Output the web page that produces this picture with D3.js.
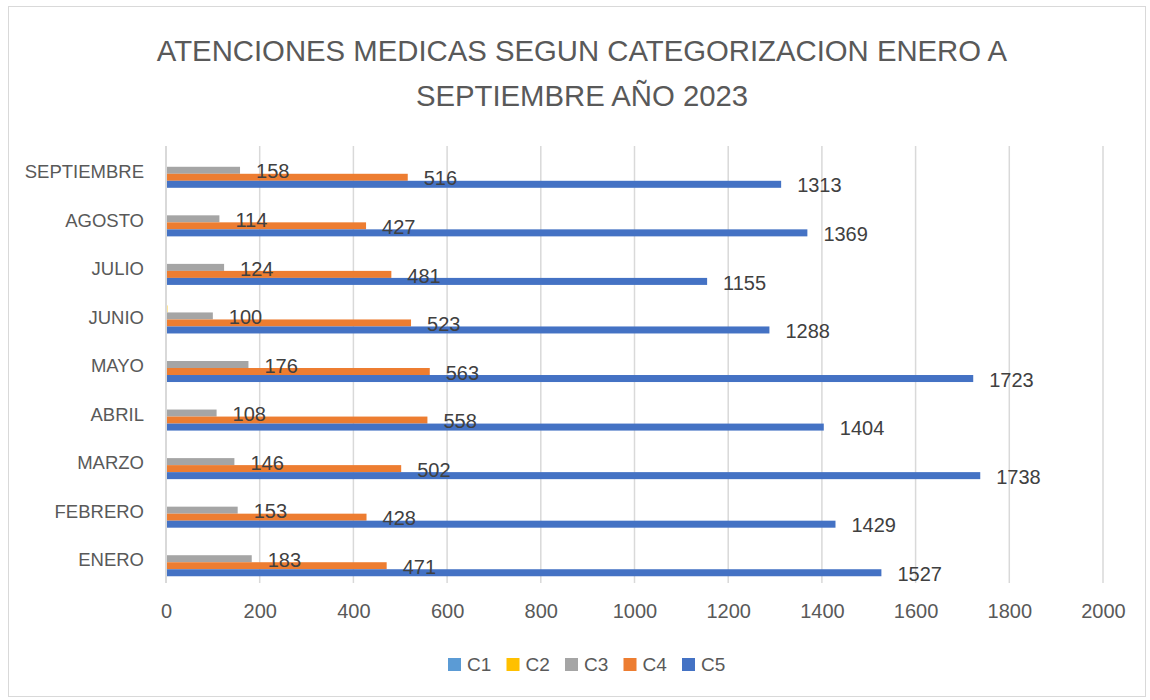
<!DOCTYPE html>
<html>
<head>
<meta charset="utf-8">
<script src="https://cdn.jsdelivr.net/npm/d3@7"></script>
<style>
  html, body { margin: 0; padding: 0; background: #ffffff; }
  svg { display: block; font-family: "Liberation Sans", Arial, sans-serif; }
</style>
</head>
<body>
<svg id="chart" width="1150" height="700"></svg>
<script>
// Months, top to bottom as displayed
const months = ["SEPTIEMBRE", "AGOSTO", "JULIO", "JUNIO", "MAYO", "ABRIL", "MARZO", "FEBRERO", "ENERO"];
const seriesNames = ["C1", "C2", "C3", "C4", "C5"];
const seriesColors = ["#5B9BD5", "#FFC000", "#A5A5A5", "#ED7D31", "#4472C4"];

// Attendances per category, same month order as above
const c1 = [0, 0, 0, 0, 1, 1, 1, 0, 0];
const c2 = [1, 0, 2, 3, 0, 0, 0, 0, 0];
const c3 = [158, 114, 124, 100, 176, 108, 146, 153, 183];
const c4 = [516, 427, 481, 523, 563, 558, 502, 428, 471];
const c5 = [1313, 1369, 1155, 1288, 1723, 1404, 1738, 1429, 1527];

const xTicks = [0, 200, 400, 600, 800, 1000, 1200, 1400, 1600, 1800, 2000];
const labelledSeries = ["C3", "C4", "C5"];

const titleLines = ["ATENCIONES MEDICAS SEGUN CATEGORIZACION ENERO A", "SEPTIEMBRE AÑO 2023"];

const seriesValues = [c1, c2, c3, c4, c5];
const rows = months.map((m, i) => ({
  month: m,
  values: seriesNames.map((s, k) => ({ series: s, value: seriesValues[k][i], color: seriesColors[k] }))
}));

const svg = d3.select("#chart");
const W = 1150, H = 700;
const plot = { left: 166, right: 1103, top: 146, bottom: 583 };

// Outer frame
svg.append("rect")
  .attr("x", 8.5).attr("y", 6.5)
  .attr("width", 1137).attr("height", 690)
  .attr("fill", "#ffffff")
  .attr("stroke", "#d9d9d9").attr("stroke-width", 1);

// Title
svg.append("g").selectAll("text")
  .data(titleLines)
  .join("text")
  .attr("x", 582)
  .attr("y", (d, i) => 60.5 + i * 45)
  .attr("text-anchor", "middle")
  .attr("fill", "#595959")
  .attr("font-size", 29.3)
  .text(d => d);

const x = d3.scaleLinear().domain([0, 2000]).range([plot.left, plot.right]);
const y = d3.scaleBand().domain(months).range([plot.top, plot.bottom])
  .paddingInner(0.278).paddingOuter(0.139);
const ys = d3.scaleBand().domain(seriesNames).range([0, y.bandwidth()]);

// Vertical gridlines
svg.append("g").selectAll("line")
  .data(xTicks)
  .join("line")
  .attr("x1", d => x(d)).attr("x2", d => x(d))
  .attr("y1", plot.top).attr("y2", plot.bottom)
  .attr("stroke", "#d9d9d9").attr("stroke-width", 1.5);

// X axis tick labels
const xAxis = d3.axisBottom(x).tickValues(xTicks).tickSize(0).tickPadding(0).tickFormat(d3.format("d"));
const gx = svg.append("g").attr("transform", `translate(0,${plot.bottom + 35})`).call(xAxis);
gx.select(".domain").remove();
gx.selectAll("text")
  .attr("dy", 0)
  .attr("fill", "#595959")
  .attr("font-size", 20)
  .attr("font-family", "Liberation Sans, Arial, sans-serif");

// Category axis labels
const yAxis = d3.axisLeft(y).tickSize(0).tickPadding(0);
const gy = svg.append("g").attr("transform", `translate(${plot.left - 22},0)`).call(yAxis);
gy.select(".domain").remove();
gy.selectAll("text")
  .attr("dy", "0.36em")
  .attr("fill", "#595959")
  .attr("font-size", 18.5)
  .attr("font-family", "Liberation Sans, Arial, sans-serif");
gy.selectAll(".tick").attr("transform", d => `translate(0,${y(d) + y.bandwidth() / 2 + 1})`);

// Bars
const groups = svg.append("g").selectAll("g")
  .data(rows)
  .join("g")
  .attr("transform", d => `translate(0,${y(d.month)})`);

groups.selectAll("rect")
  .data(d => d.values)
  .join("rect")
  .attr("x", x(0))
  .attr("y", d => ys(d.series))
  .attr("width", d => x(d.value) - x(0))
  .attr("height", ys.bandwidth())
  .attr("fill", d => d.color);

// Category axis line
svg.append("line")
  .attr("x1", plot.left).attr("x2", plot.left)
  .attr("y1", plot.top).attr("y2", plot.bottom)
  .attr("stroke", "#d9d9d9").attr("stroke-width", 2);

// Data labels
groups.selectAll("text")
  .data(d => d.values.filter(v => labelledSeries.includes(v.series)))
  .join("text")
  .attr("x", d => x(d.value) + 16)
  .attr("y", d => ys(d.series) + ys.bandwidth() / 2 + 1)
  .attr("dy", "0.36em")
  .attr("fill", "#404040")
  .attr("font-size", 20)
  .text(d => d.value);

// Legend
const legend = svg.append("g").selectAll("g")
  .data(seriesNames)
  .join("g")
  .attr("transform", (d, i) => `translate(${448 + i * 58.5},658)`);
legend.append("rect")
  .attr("width", 13).attr("height", 13)
  .attr("fill", (d, i) => seriesColors[i]);
legend.append("text")
  .attr("x", 19).attr("y", 6.5)
  .attr("dy", "0.36em")
  .attr("fill", "#595959")
  .attr("font-size", 19)
  .text(d => d);
</script>
</body>
</html>
